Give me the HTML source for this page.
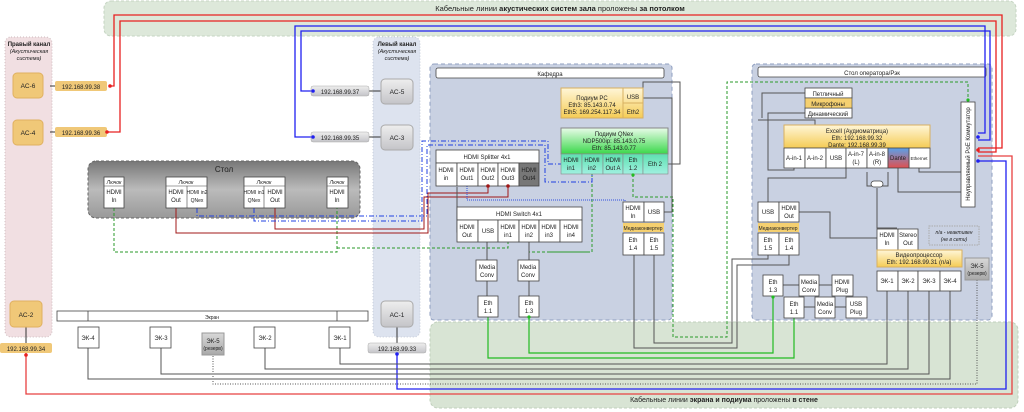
<!DOCTYPE html>
<html><head><meta charset="utf-8"><style>
html,body{margin:0;padding:0;background:#fff}
svg{display:block}
text{font-family:"Liberation Sans","Noto Sans CJK SC",sans-serif;fill:#222}
.p{font-size:6px;text-anchor:middle}
.s{font-size:5px;text-anchor:middle}
.b{fill:#fff;stroke:#444;stroke-width:0.8}
.ln{fill:none;stroke:#555;stroke-width:1}
</style></head><body>
<svg width="1024" height="412" viewBox="0 0 1024 412" xmlns="http://www.w3.org/2000/svg">
<defs>
<linearGradient id="gs" x1="0" y1="0" x2="0" y2="1"><stop offset="0" stop-color="#777"/><stop offset="0.5" stop-color="#bbb"/><stop offset="1" stop-color="#999"/></linearGradient>
<linearGradient id="gy" x1="0" y1="0" x2="0" y2="1"><stop offset="0" stop-color="#fff6d8"/><stop offset="1" stop-color="#f5cc55"/></linearGradient>
<linearGradient id="gg" x1="0" y1="0" x2="0" y2="1"><stop offset="0" stop-color="#e8fbe8"/><stop offset="1" stop-color="#3ad84a"/></linearGradient>
<linearGradient id="gt" x1="0" y1="0" x2="0" y2="1"><stop offset="0" stop-color="#5ee0b0"/><stop offset="1" stop-color="#a0f0e0"/></linearGradient>
<linearGradient id="gd" x1="0" y1="0" x2="0" y2="1"><stop offset="0" stop-color="#5aa0e8"/><stop offset="1" stop-color="#e05050"/></linearGradient>
<linearGradient id="gr" x1="0" y1="0" x2="0" y2="1"><stop offset="0" stop-color="#eee"/><stop offset="1" stop-color="#c4c4c8"/></linearGradient>
<linearGradient id="gsv" x1="0" y1="0" x2="0" y2="1"><stop offset="0" stop-color="#d8d8d8"/><stop offset="1" stop-color="#a8a8a8"/></linearGradient>
</defs>
<rect x="104" y="1" width="912" height="35" rx="7" fill="#dde8da" stroke="#c5d4c2" stroke-dasharray="3,2"/>
<text x="560" y="11" font-size="7.5" text-anchor="middle">Кабельные линии <tspan font-weight="bold">акустических систем зала</tspan> проложены <tspan font-weight="bold">за потолком</tspan></text>
<rect x="5" y="37" width="47" height="300" rx="6" fill="#f1dfe2" stroke="#cdbbbe" stroke-dasharray="1,2"/>
<rect x="373" y="37" width="47" height="300" rx="6" fill="#dde3ef" stroke="#c4cbd8" stroke-dasharray="1,2"/>
<text x="29" y="46" font-size="6" font-weight="bold" text-anchor="middle">Правый канал</text>
<text x="29" y="53" font-size="5.5" font-style="italic" text-anchor="middle">(Акустическая</text>
<text x="29" y="60" font-size="5.5" font-style="italic" text-anchor="middle">система)</text>
<text x="397" y="46" font-size="6" font-weight="bold" text-anchor="middle">Левый канал</text>
<text x="397" y="53" font-size="5.5" font-style="italic" text-anchor="middle">(Акустическая</text>
<text x="397" y="60" font-size="5.5" font-style="italic" text-anchor="middle">система)</text>
<rect x="430" y="322" width="588" height="86" rx="8" fill="#d8e4d4" stroke="#c0d0bc" stroke-dasharray="3,2"/>
<text x="724" y="402" font-size="7" text-anchor="middle">Кабельные линии <tspan font-weight="bold">экрана и подиума</tspan> проложены <tspan font-weight="bold">в стене</tspan></text>
<rect x="430" y="64" width="242" height="256" rx="4" fill="#c9d1e2" stroke="#8f9fc0" stroke-dasharray="4,3"/>
<rect x="436" y="68" width="228" height="10" rx="2" class="b"/><text x="550" y="76" class="p">Кафедра</text>
<rect x="752" y="64" width="240" height="256" rx="4" fill="#c9d1e2" stroke="#8f9fc0" stroke-dasharray="4,3"/>
<rect x="758" y="67" width="228" height="10" rx="2" class="b"/><text x="872" y="75" class="p">Стол оператора/Рэк</text>
<rect x="88" y="161" width="272" height="57" rx="8" fill="url(#gs)" stroke="#666" stroke-dasharray="3,2"/>
<text x="224" y="172" font-size="8" text-anchor="middle">Стол</text>
<rect x="57" y="311" width="311" height="10" class="b"/><line x1="88" y1="311" x2="88" y2="321" stroke="#444" stroke-width=".8"/><line x1="337" y1="311" x2="337" y2="321" stroke="#444" stroke-width=".8"/>
<text x="212" y="319" class="s" font-size="5.5">Экран</text>

<g fill="none" stroke-width="1.3">
<path d="M110 86H114V15H1002V148H978" stroke="#e82020"/>
<path d="M107 132H120V21H996V152H978" stroke="#e82020"/>
<path d="M313 91H301V31H990V140H978" stroke="#2020f0"/>
<path d="M313 137H295V26H985V133H978" stroke="#2020f0"/>
<path d="M978 156H1012V394H26V353" stroke="#e84040"/>
<path d="M978 161H1006V389H397V352" stroke="#2020f0"/>
</g>
<g class="ln" stroke="#666">
<path d="M887 291V364H340V348"/><path d="M908 291V369H265V348"/><path d="M929 291V374H161V348"/><path d="M950 291V379H88V348"/>
<path d="M977 280V384H213V355" stroke-dasharray="1,1.5"/>
<path d="M634 255V348H737V265H789V255"/>
<path d="M654 255V343H732V259H768V255"/>
</g>
<g fill="none" stroke="#2a9a2a" stroke-dasharray="3,2" stroke-width="1">
<path d="M114 208V252H337V208"/>
<path d="M337 248H508V242"/>
<path d="M592 174V252H529V242"/>
<path d="M633 174V197H673V337H727V82H968V102"/>
<path d="M550 252H588"/>
</g>
<g fill="none" stroke="#22bb22" stroke-width="1.2">
<path d="M488 317V358H794V318"/><path d="M529 317V353H773V296"/>
</g>
<g fill="none" stroke="#a01818" stroke-width="1">
<path d="M176 208V233H428V193H488V186"/><path d="M275 208V229H424V197H508V186"/>
</g>
<g fill="none" stroke="#2040e0" stroke-dasharray="5,2,1,2" stroke-width="1">
<path d="M254 208V221H422V141H548V164H561"/><path d="M197 208V216H427V145H545V182H592V174"/>
</g>
<path d="M467 186V200H625V212" fill="none" stroke="#3050e0" stroke-dasharray="1,1"/>
<g class="ln" stroke="#444">
<path d="M457 187V232H467"/>
<path d="M487 242V260"/><path d="M487 281V296"/><path d="M529 242V260"/><path d="M529 281V296"/>
<path d="M643 98H672V212H664"/><path d="M668 164H680V82H643V108"/>
<path d="M805 93H762V118"/><path d="M805 113H768V170H794V168"/>
<path d="M768 202V178H846V168"/><path d="M789 212H830V238H877"/>
<path d="M758 120H815V168"/>
<path d="M898 168V192H961"/><path d="M919 168V172H961"/>
<path d="M877 181V186H867V172M877 181V186H888V172"/><path d="M877 188V228H897"/>
<path d="M783 285H799M819 285H832M804 307H815M835 307H846"/>
</g>
<line x1="50" y1="86" x2="55" y2="86" stroke="#333"/><line x1="50" y1="132" x2="55" y2="132" stroke="#333"/>
<line x1="369" y1="91" x2="381" y2="91" stroke="#333"/><line x1="369" y1="137" x2="381" y2="137" stroke="#333"/>
<line x1="26" y1="327" x2="26" y2="343" stroke="#333"/><line x1="397" y1="327" x2="397" y2="343" stroke="#333"/>
<g font-size="6.5" text-anchor="middle">
<rect x="13" y="73" width="30" height="25" rx="4" fill="#f0c878" stroke="#e0b060"/><text x="28" y="88">AC-6</text>
<rect x="13" y="120" width="30" height="25" rx="4" fill="#f0c878" stroke="#e0b060"/><text x="28" y="135">AC-4</text>
<rect x="10" y="301" width="32" height="26" rx="4" fill="#f0c878" stroke="#e0b060"/><text x="26" y="317">AC-2</text>
<rect x="381" y="79" width="32" height="25" rx="4" fill="url(#gr)" stroke="#aaa"/><text x="397" y="94">AC-5</text>
<rect x="381" y="125" width="32" height="25" rx="4" fill="url(#gr)" stroke="#aaa"/><text x="397" y="140">AC-3</text>
<rect x="381" y="301" width="32" height="26" rx="4" fill="url(#gr)" stroke="#aaa"/><text x="397" y="317">AC-1</text>
</g>
<g font-size="6" text-anchor="middle">
<rect x="55" y="81" width="52" height="10" rx="2" fill="#f0c878"/><text x="81" y="89">192.168.99.38</text>
<rect x="55" y="127" width="52" height="10" rx="2" fill="#f0c878"/><text x="81" y="135">192.168.99.36</text>
<rect x="0" y="343" width="52" height="10" rx="2" fill="#f0c878"/><text x="26" y="351">192.168.99.34</text>
<rect x="311" y="86" width="58" height="10" rx="2" fill="url(#gr)" stroke="#aaa" stroke-width=".5"/><text x="340" y="94">192.168.99.37</text>
<rect x="311" y="132" width="58" height="10" rx="2" fill="url(#gr)" stroke="#aaa" stroke-width=".5"/><text x="340" y="140">192.168.99.35</text>
<rect x="368" y="343" width="58" height="10" rx="2" fill="url(#gr)" stroke="#aaa" stroke-width=".5"/><text x="397" y="351">192.168.99.33</text>
</g>
<g>
<rect x="104" y="177" width="20" height="31" class="b"/><line x1="104" y1="186" x2="124" y2="186" stroke="#444" stroke-width=".6"/>
<text x="114" y="184" class="s" font-style="italic">Лючок</text><text x="114" y="194" class="p">HDMI</text><text x="114" y="202" class="p">In</text>
<rect x="166" y="177" width="41" height="31" class="b"/><line x1="166" y1="186" x2="207" y2="186" stroke="#444" stroke-width=".6"/><line x1="187" y1="186" x2="187" y2="208" stroke="#444" stroke-width=".6"/>
<text x="186" y="184" class="s" font-style="italic">Лючок</text><text x="176" y="194" class="p">HDMI</text><text x="176" y="202" class="p">Out</text><text x="197" y="194" class="s" font-size="4">HDMI in2</text><text x="197" y="202" class="s" font-size="4">QNex</text>
<rect x="244" y="177" width="41" height="31" class="b"/><line x1="244" y1="186" x2="285" y2="186" stroke="#444" stroke-width=".6"/><line x1="264" y1="186" x2="264" y2="208" stroke="#444" stroke-width=".6"/>
<text x="264" y="184" class="s" font-style="italic">Лючок</text><text x="254" y="194" class="s" font-size="4">HDMI in1</text><text x="254" y="202" class="s" font-size="4">QNex</text><text x="275" y="194" class="p">HDMI</text><text x="275" y="202" class="p">Out</text>
<rect x="327" y="177" width="21" height="31" class="b"/><line x1="327" y1="186" x2="348" y2="186" stroke="#444" stroke-width=".6"/>
<text x="337" y="184" class="s" font-style="italic">Лючок</text><text x="337" y="194" class="p">HDMI</text><text x="337" y="202" class="p">In</text>
</g>
<g>
<rect x="78" y="327" width="21" height="21" class="b"/><text x="88" y="340" class="p">ЭК-4</text>
<rect x="150" y="327" width="21" height="21" class="b"/><text x="161" y="340" class="p">ЭК-3</text>
<rect x="202" y="333" width="22" height="22" fill="url(#gsv)" stroke="#999"/><text x="213" y="343" class="p">ЭК-5</text><text x="213" y="350" class="s" font-size="3.5">(резерв)</text>
<rect x="254" y="327" width="21" height="21" class="b"/><text x="265" y="340" class="p">ЭК-2</text>
<rect x="329" y="327" width="21" height="21" class="b"/><text x="340" y="340" class="p">ЭК-1</text>
<rect x="965" y="258" width="24" height="22" fill="url(#gsv)" stroke="#999"/><text x="977" y="268" class="p">ЭК-5</text><text x="977" y="275" class="s" font-size="3.5">(резерв)</text>
</g>
<rect x="561" y="88" width="82" height="30" fill="url(#gy)" stroke="#d8b060"/>
<line x1="623" y1="88" x2="623" y2="118" stroke="#d8b060"/><line x1="623" y1="103" x2="643" y2="103" stroke="#d8b060"/>
<text x="592" y="100" class="p">Подиум PC</text><text x="592" y="107" class="p">Eth3: 85.143.0.74</text><text x="592" y="114" class="p">Eth5: 169.254.117.34</text>
<text x="633" y="99" class="p">USB</text><text x="633" y="114" class="p">Eth2</text>
<rect x="561" y="128" width="107" height="26" fill="url(#gg)" stroke="#888"/>
<text x="614" y="136" class="p">Подиум QNex</text><text x="614" y="143" class="p">NDP500ip: 85.143.0.75</text><text x="614" y="150" class="p">Eth: 85.143.0.77</text>
<g stroke="#888" stroke-width=".6">
<rect x="561" y="154" width="21" height="20" fill="url(#gt)"/><rect x="582" y="154" width="21" height="20" fill="url(#gt)"/><rect x="603" y="154" width="20" height="20" fill="url(#gt)"/><rect x="623" y="154" width="20" height="20" fill="url(#gt)"/><rect x="643" y="154" width="25" height="20" fill="url(#gt)"/>
</g>
<text x="571" y="162" class="p">HDMI</text><text x="571" y="170" class="p">in1</text><text x="592" y="162" class="p">HDMI</text><text x="592" y="170" class="p">in2</text><text x="613" y="162" class="p">HDMI</text><text x="613" y="170" class="p">Out A</text><text x="633" y="162" class="p">Eth</text><text x="633" y="170" class="p">1.2</text><text x="655" y="166" class="p">Eth 2</text>
<rect x="436" y="150" width="103" height="13" class="b"/><text x="487" y="159" class="p">HDMI Splitter 4x1</text>
<g class="b"><rect x="436" y="163" width="21" height="23"/><rect x="457" y="163" width="21" height="23"/><rect x="478" y="163" width="20" height="23"/><rect x="498" y="163" width="21" height="23"/></g>
<rect x="519" y="163" width="20" height="23" fill="#777" stroke="#444" stroke-width=".8"/>
<g class="p"><text x="446" y="172">HDMI</text><text x="446" y="180">in</text><text x="467" y="172">HDMI</text><text x="467" y="180">Out1</text><text x="488" y="172">HDMI</text><text x="488" y="180">Out2</text><text x="508" y="172">HDMI</text><text x="508" y="180">Out3</text><text x="529" y="172">HDMI</text><text x="529" y="180">Out4</text></g>
<rect x="457" y="207" width="125" height="13" class="b"/><text x="519" y="216" class="p">HDMI Switch 4x1</text>
<g class="b"><rect x="457" y="220" width="21" height="22"/><rect x="478" y="220" width="20" height="22"/><rect x="498" y="220" width="21" height="22"/><rect x="519" y="220" width="20" height="22"/><rect x="539" y="220" width="21" height="22"/><rect x="560" y="220" width="22" height="22"/></g>
<g class="p"><text x="467" y="229">HDMI</text><text x="467" y="237">Out</text><text x="488" y="233">USB</text><text x="508" y="229">HDMI</text><text x="508" y="237">in1</text><text x="529" y="229">HDMI</text><text x="529" y="237">in2</text><text x="549" y="229">HDMI</text><text x="549" y="237">in3</text><text x="571" y="229">HDMI</text><text x="571" y="237">in4</text></g>
<g class="b"><rect x="476" y="260" width="21" height="21"/><rect x="518" y="260" width="21" height="21"/><rect x="478" y="296" width="20" height="21"/><rect x="519" y="296" width="20" height="21"/></g>
<g class="p"><text x="487" y="269">Media</text><text x="487" y="277">Conv</text><text x="528" y="269">Media</text><text x="528" y="277">Conv</text><text x="488" y="305">Eth</text><text x="488" y="313">1.1</text><text x="529" y="305">Eth</text><text x="529" y="313">1.3</text></g>
<g class="b"><rect x="623" y="202" width="21" height="20"/><rect x="644" y="202" width="20" height="20"/><rect x="623" y="233" width="21" height="22"/><rect x="644" y="233" width="20" height="22"/></g>
<rect x="623" y="223" width="41" height="9" fill="#f5d070"/><text x="643" y="230" class="s" font-size="4.5">Медиаконвертер</text>
<g class="p"><text x="633" y="210">HDMI</text><text x="633" y="218">In</text><text x="654" y="214">USB</text><text x="633" y="242">Eth</text><text x="633" y="250">1.4</text><text x="654" y="242">Eth</text><text x="654" y="250">1.5</text></g>
<g class="b"><rect x="805" y="88" width="47" height="10"/><rect x="805" y="108" width="47" height="10"/></g>
<rect x="805" y="98" width="47" height="10" fill="#f5d070" stroke="#444" stroke-width=".6"/>
<g class="p"><text x="828" y="96">Петличный</text><text x="828" y="106">Микрофоны</text><text x="828" y="116">Динамический</text></g>
<rect x="784" y="125" width="146" height="23" fill="url(#gy)" stroke="#d8b060"/>
<g class="p"><text x="857" y="133">Excell (Аудиоматрица)</text><text x="857" y="140">Eth: 192.168.99.32</text><text x="857" y="147">Dante: 192.168.99.39</text></g>
<g class="b"><rect x="784" y="148" width="21" height="20"/><rect x="805" y="148" width="21" height="20"/><rect x="826" y="148" width="20" height="20"/><rect x="846" y="148" width="21" height="20"/><rect x="867" y="148" width="21" height="20"/><rect x="909" y="148" width="21" height="20"/></g>
<rect x="888" y="148" width="21" height="20" fill="url(#gd)" stroke="#444" stroke-width=".8"/>
<g class="p"><text x="794" y="160">A-in-1</text><text x="815" y="160">A-in-2</text><text x="836" y="160">USB</text><text x="856" y="156">A-in-7</text><text x="856" y="164">(L)</text><text x="877" y="156">A-in-8</text><text x="877" y="164">(R)</text><text x="898" y="160">Dante</text><text x="919" y="160" font-size="4.5">Ethernet</text></g>
<rect x="871" y="181" width="12" height="6" rx="3" fill="#fff" stroke="#444" stroke-width=".8"/>
<rect x="961" y="102" width="14" height="105" class="b"/>
<text transform="translate(970,154) rotate(-90)" class="p" font-size="4.8">Неуправляемый PoE Коммутатор</text>
<g class="b"><rect x="758" y="202" width="21" height="20"/><rect x="779" y="202" width="20" height="20"/><rect x="758" y="233" width="21" height="22"/><rect x="779" y="233" width="20" height="22"/></g>
<rect x="758" y="223" width="41" height="9" fill="#f5d070"/><text x="778" y="230" class="s" font-size="4.5">Медиаконвертер</text>
<g class="p"><text x="768" y="214">USB</text><text x="789" y="210">HDMI</text><text x="789" y="218">Out</text><text x="768" y="242">Eth</text><text x="768" y="250">1.5</text><text x="789" y="242">Eth</text><text x="789" y="250">1.4</text></g>
<g class="b"><rect x="877" y="229" width="21" height="21"/><rect x="898" y="229" width="20" height="21"/></g>
<g class="p"><text x="887" y="237">HDMI</text><text x="887" y="245">In</text><text x="908" y="237">Stereo</text><text x="908" y="245">Out</text></g>
<rect x="877" y="250" width="85" height="17" fill="url(#gy)" stroke="#d8b060"/>
<g class="p"><text x="919" y="257">Видеопроцессор</text><text x="919" y="264">Eth: 192.168.99.31 (n/a)</text></g>
<g class="b"><rect x="877" y="271" width="21" height="20"/><rect x="898" y="271" width="20" height="20"/><rect x="918" y="271" width="22" height="20"/><rect x="940" y="271" width="21" height="20"/></g>
<g class="p"><text x="887" y="283">ЭК-1</text><text x="908" y="283">ЭК-2</text><text x="929" y="283">ЭК-3</text><text x="950" y="283">ЭК-4</text></g>
<rect x="929" y="226" width="50" height="19" fill="none" stroke="#aaa" stroke-dasharray="1.5,1"/>
<text x="954" y="234" class="s" font-style="italic" fill="#555">n/a - неактивен</text><text x="954" y="241" class="s" font-style="italic" fill="#555">(не в сети)</text>
<g class="b"><rect x="763" y="275" width="20" height="21"/><rect x="799" y="275" width="20" height="21"/><rect x="832" y="275" width="21" height="21"/><rect x="784" y="297" width="20" height="21"/><rect x="815" y="297" width="20" height="21"/><rect x="846" y="297" width="21" height="21"/></g>
<g class="p"><text x="773" y="284">Eth</text><text x="773" y="292">1.3</text><text x="809" y="284">Media</text><text x="809" y="292">Conv</text><text x="842" y="284">HDMI</text><text x="842" y="292">Plug</text><text x="794" y="306">Eth</text><text x="794" y="314">1.1</text><text x="825" y="306">Media</text><text x="825" y="314">Conv</text><text x="856" y="306">USB</text><text x="856" y="314">Plug</text></g>
<g fill="#e82020"><circle cx="110" cy="86" r="1.8"/><circle cx="107" cy="132" r="1.8"/><circle cx="978" cy="150" r="1.8"/><circle cx="26" cy="355" r="1.8"/><circle cx="488" cy="186" r="1.8" fill="#a01818"/><circle cx="508" cy="186" r="1.8" fill="#a01818"/></g>
<g fill="#2020f0"><circle cx="313" cy="91" r="1.8"/><circle cx="313" cy="137" r="1.8"/><circle cx="978" cy="137" r="1.8"/><circle cx="978" cy="161" r="1.8"/><circle cx="397" cy="354" r="1.8"/></g>
<g fill="#22bb22"><circle cx="529" cy="317" r="1.6"/><circle cx="773" cy="297" r="1.6"/><circle cx="633" cy="175" r="1.6"/><circle cx="968" cy="100" r="1.6"/></g>
</svg>
</body></html>
